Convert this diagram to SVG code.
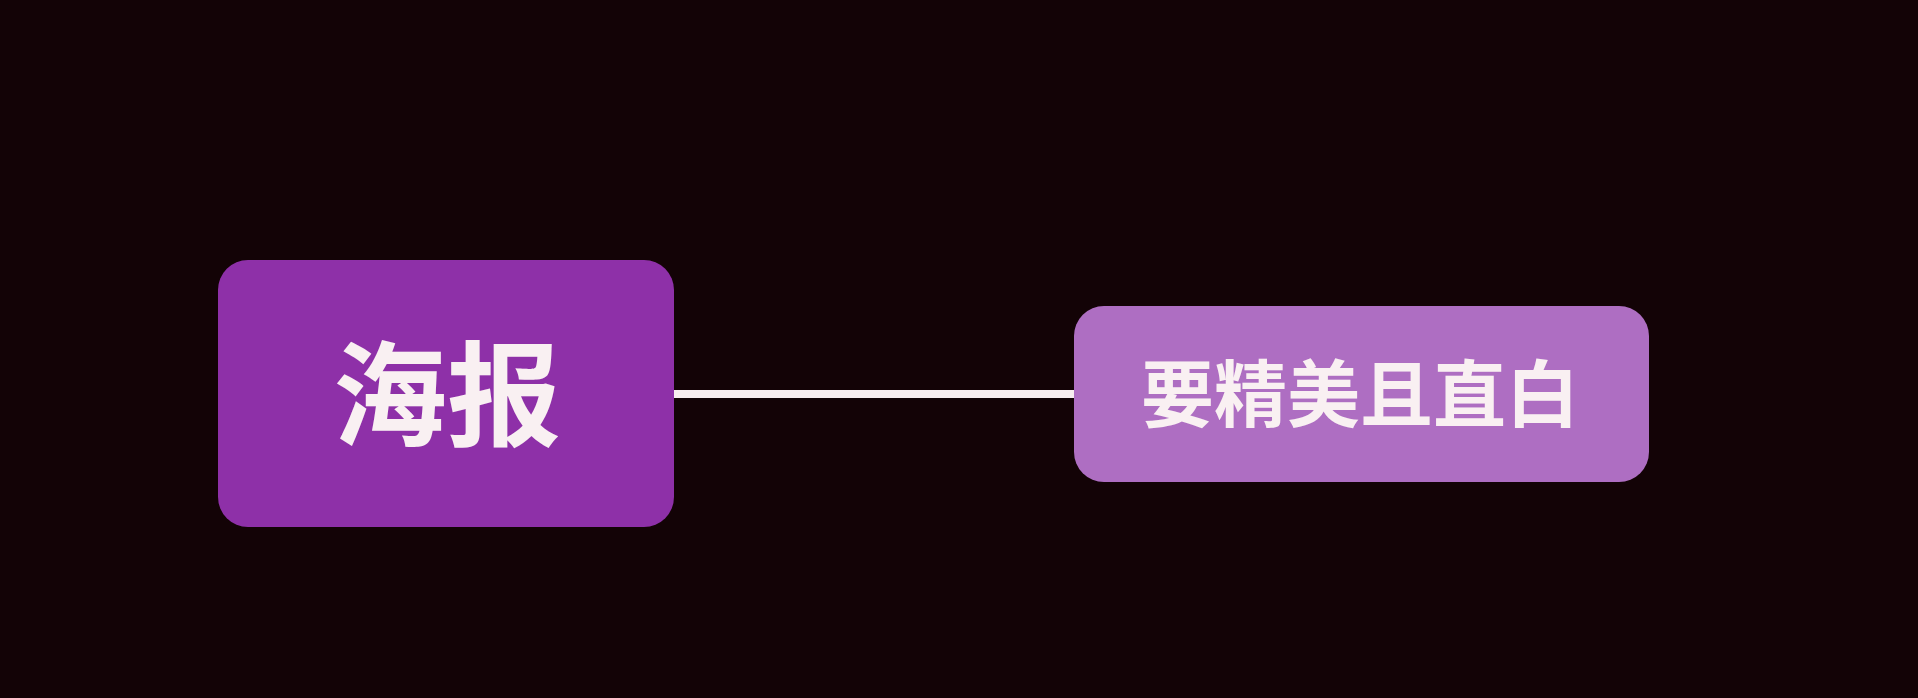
<svg xmlns="http://www.w3.org/2000/svg" width="1918" height="698" viewBox="0 0 1918 698">
<style>
.lbl{font-family:"Noto Sans CJK SC","Noto Sans",sans-serif;font-weight:bold;fill:#f9f0f2;text-anchor:middle}
</style>
<rect width="1918" height="698" fill="#130306"/>
<g id="connectors">
<line x1="674" y1="394" x2="1074" y2="394" stroke="#f8eef0" stroke-width="8"/>
</g>
<g id="node-poster">
<rect x="218" y="260" width="456" height="267" rx="30" fill="#8e30a8"/>
<text class="lbl" x="447" y="437" font-size="114">海报</text>
</g>
<g id="node-style">
<rect x="1074" y="306" width="575" height="176" rx="30" fill="#ae6ec2"/>
<text class="lbl" x="1360" y="421" font-size="73">要精美且直白</text>
</g>
</svg>
